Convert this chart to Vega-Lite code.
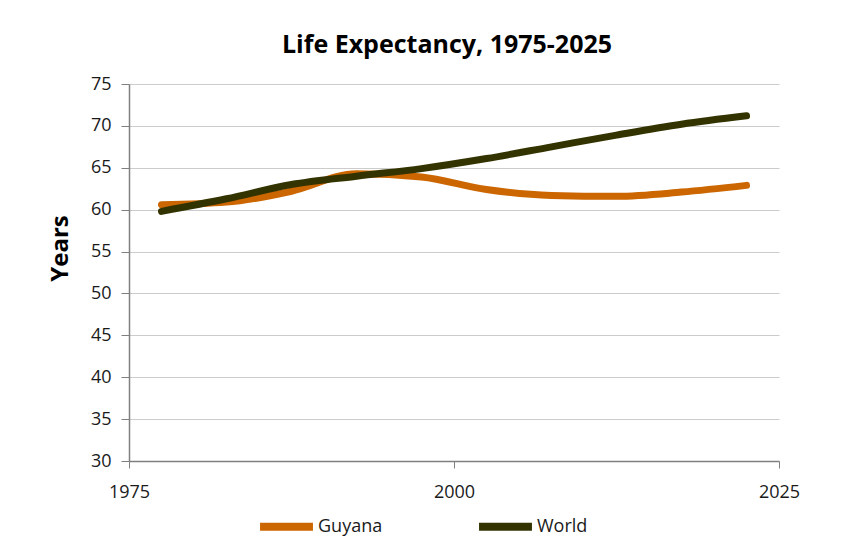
{
  "$schema": "https://vega.github.io/schema/vega-lite/v6.json",
  "width": 650,
  "height": 377,
  "autosize": {"type": "none"},
  "padding": {"left": 129, "top": 84, "right": 86, "bottom": 96},
  "background": "white",
  "title": {"text": "Life Expectancy, 1975-2025", "fontSize": 25, "font": "Open Sans", "fontWeight": "bold", "color": "#000000", "anchor": "middle", "offset": 17, "dx": -7},
  "data": {"values": [
    {"year": 1977.5, "series": "Guyana", "value": 60.6},
    {"year": 1982.5, "series": "Guyana", "value": 60.9},
    {"year": 1987.5, "series": "Guyana", "value": 62.2},
    {"year": 1992.5, "series": "Guyana", "value": 64.3},
    {"year": 1997.5, "series": "Guyana", "value": 63.9},
    {"year": 2002.5, "series": "Guyana", "value": 62.4},
    {"year": 2007.5, "series": "Guyana", "value": 61.7},
    {"year": 2012.5, "series": "Guyana", "value": 61.6},
    {"year": 2017.5, "series": "Guyana", "value": 62.1},
    {"year": 2022.5, "series": "Guyana", "value": 62.9},
    {"year": 1977.5, "series": "World", "value": 59.8},
    {"year": 1982.5, "series": "World", "value": 61.3},
    {"year": 1987.5, "series": "World", "value": 63.0},
    {"year": 1992.5, "series": "World", "value": 64.0},
    {"year": 1997.5, "series": "World", "value": 64.9},
    {"year": 2002.5, "series": "World", "value": 66.1},
    {"year": 2007.5, "series": "World", "value": 67.5},
    {"year": 2012.5, "series": "World", "value": 68.9},
    {"year": 2017.5, "series": "World", "value": 70.2},
    {"year": 2022.5, "series": "World", "value": 71.2}
  ]},
  "mark": {"type": "line", "interpolate": "monotone", "strokeWidth": 7, "strokeCap": "round", "strokeJoin": "round"},
  "encoding": {
    "x": {"field": "year", "type": "quantitative", "scale": {"domain": [1975, 2025], "nice": false, "zero": false},
      "axis": {"values": [1975, 2000, 2025], "format": "d", "title": null, "grid": false, "domainColor": "#808080", "domainWidth": 1.5, "tickColor": "#808080", "tickSize": 7, "labelPadding": 15, "labelFontSize": 18, "labelFont": "Open Sans", "labelColor": "#1a1a1a", "labelFlush": false}},
    "y": {"field": "value", "type": "quantitative", "scale": {"domain": [30, 75], "nice": false, "zero": false},
      "axis": {"values": [30, 35, 40, 45, 50, 55, 60, 65, 70, 75], "title": "Years", "titleFontSize": 24, "titleFont": "Open Sans", "titleFontWeight": "bold", "titleColor": "#000000", "titlePadding": 18, "titleY": 164, "grid": true, "gridColor": "#cccccc", "domainColor": "#808080", "domainWidth": 1.5, "tickColor": "#808080", "tickSize": 8, "labelPadding": 10, "labelFontSize": 18, "labelFont": "Open Sans", "labelColor": "#1a1a1a"}},
    "color": {"field": "series", "type": "nominal", "scale": {"domain": ["Guyana", "World"], "range": ["#cc6600", "#333300"]},
      "legend": {"orient": "none", "legendX": 127, "legendY": 412, "direction": "horizontal", "title": null, "symbolType": "stroke", "symbolSize": 2800, "symbolStrokeWidth": 8, "labelFontSize": 18, "labelFont": "Open Sans", "labelColor": "#1a1a1a", "labelOffset": 1, "columnPadding": 80}}
  },
  "config": {"view": {"stroke": null}}
}
